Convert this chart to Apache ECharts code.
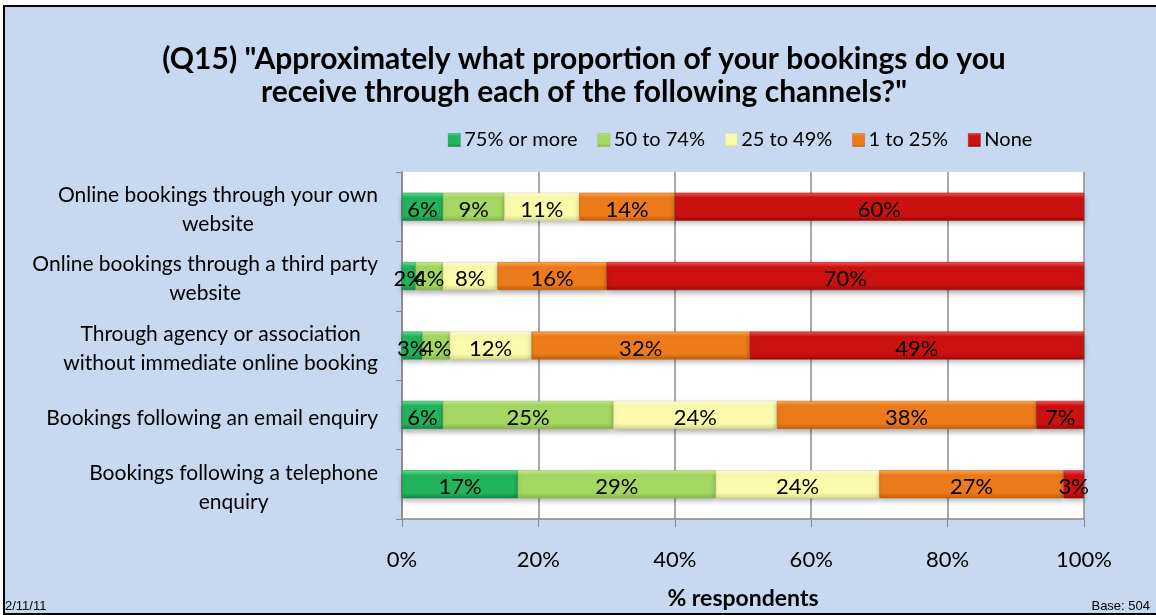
<!DOCTYPE html>
<html>
<head>
<meta charset="utf-8">
<script src="https://cdn.jsdelivr.net/npm/echarts@6/dist/echarts.min.js"></script>
<style>
    body { margin: 0; background: #fff; }
    #frame { position: absolute; left: 3px; top: 5px; width: 1160px; height: 606px; border: 2px solid #000; background: #c6d9f1; }
    #chart { position: absolute; left: 0; top: 0; width: 1156px; height: 615px; }
</style>
</head>
<body>
<div id="frame"></div>
<div id="chart"></div>
<script>
    // categories (top to bottom)
    var categories = [
        'Online bookings through your own\nwebsite',
        'Online bookings through a third party\nwebsite',
        'Through agency or association\nwithout immediate online booking',
        'Bookings following an email enquiry',
        'Bookings following a telephone\nenquiry'
    ];
    var seriesNames = ['75% or more', '50 to 74%', '25 to 49%', '1 to 25%', 'None'];
    // % respondents per answer, same order as categories
    var v75plus = [6, 2, 3, 6, 17];
    var v50to74 = [9, 4, 4, 25, 29];
    var v25to49 = [11, 8, 12, 24, 24];
    var v1to25 = [14, 16, 32, 38, 27];
    var vNone = [60, 70, 49, 7, 3];
    var xTicks = [0, 20, 40, 60, 80, 100];

    var values = [v75plus, v50to74, v25to49, v1to25, vNone];
    //颜色: 高光, 主色, 暗边
    var colors = [
        ['#5fe394', '#22b45c', '#14894a'],
        ['#c8ee8c', '#a5d763', '#86b84a'],
        ['#ffffe0', '#fbfbac', '#d9d98a'],
        ['#ffa94e', '#ee7b1b', '#c25f0e'],
        ['#ff5555', '#cc1111', '#990a0a']
    ];
    var font = 'Lato, "Open Sans", sans-serif';

    function grad(c) {
        return new echarts.graphic.LinearGradient(0, 0, 0, 1, [
            {offset: 0, color: c[0]},
            {offset: 0.18, color: c[1]},
            {offset: 0.8, color: c[1]},
            {offset: 1, color: c[2]}
        ]);
    }

    var myChart = echarts.init(document.getElementById('chart'));

    var series = seriesNames.map(function (name, i) {
        return {
            name: name,
            type: 'bar',
            stack: 'all',
            barWidth: 28,
            data: values[i],
            itemStyle: {
                color: grad(colors[i]),
                borderColor: colors[i][2],
                borderWidth: 0.5,
                shadowBlur: 5,
                shadowOffsetY: 3,
                shadowColor: 'rgba(0,0,0,0.3)'
            },
            label: {
                show: true,
                position: 'inside',
                offset: [0, 3],
                formatter: '{c}%',
                color: '#000',
                fontFamily: font,
                fontSize: 22
            }
        };
    });

    var option = {
        backgroundColor: 'transparent',
        animation: false,
        title: {
            text: '(Q15) "Approximately what proportion of your bookings do you\nreceive through each of the following channels?"',
            left: 579,
            textAlign: 'center',
            top: 38,
            textStyle: {
                fontFamily: font,
                fontWeight: 'bold',
                fontSize: 30,
                lineHeight: 33,
                color: '#000'
            }
        },
        legend: {
            data: seriesNames.map(function (n, i) {
                return {name: n, itemStyle: {color: grad(colors[i]), borderColor: colors[i][2], borderWidth: 0.5}};
            }),
            left: 443,
            top: 125,
            icon: 'rect',
            itemWidth: 12,
            itemHeight: 13,
            itemGap: 20,
            textStyle: {fontFamily: font, fontSize: 20, color: '#000', padding: [0, 0, 0, -1]}
        },
        grid: {
            left: 402,
            right: 72,
            top: 172,
            bottom: 92,
            show: true,
            backgroundColor: '#fff',
            borderWidth: 0
        },
        xAxis: {
            type: 'value',
            min: 0,
            max: 100,
            interval: 20,
            name: '% respondents',
            nameLocation: 'middle',
            nameGap: 68,
            nameTextStyle: {fontFamily: font, fontWeight: 'bold', fontSize: 23, color: '#000'},
            axisLine: {show: true, lineStyle: {color: '#888', width: 1.5}},
            axisTick: {show: true, length: 8, lineStyle: {color: '#888'}},
            splitLine: {show: true, lineStyle: {color: '#8c8c8c', width: 1.5}},
            axisLabel: {
                margin: 30,
                fontFamily: font,
                fontSize: 22,
                color: '#000',
                formatter: function (v) { return xTicks.indexOf(v) >= 0 ? v + '%' : ''; }
            }
        },
        yAxis: {
            type: 'category',
            inverse: true,
            data: categories,
            axisLine: {show: true, lineStyle: {color: '#888', width: 1.5}},
            axisTick: {show: true, length: 6, lineStyle: {color: '#888'}},
            axisLabel: {
                margin: 24,
                padding: [6, 0, 0, 0],
                color: '#000',
                fontFamily: font,
                fontSize: 21,
                lineHeight: 29,
                formatter: function (v) {
                    return v.split('\n').map(function (l) { return '{c|' + l + '}'; }).join('\n');
                },
                rich: {
                    c: {align: 'center', fontFamily: font, fontSize: 21, lineHeight: 29, color: '#000'}
                }
            }
        },
        graphic: [
            {type: 'text', left: 5, bottom: 2, style: {text: '2/11/11', font: '13px "Liberation Sans", Arial', fill: '#000'}},
            {type: 'text', right: 6, bottom: 2, style: {text: 'Base: 504', font: '13px "Liberation Sans", Arial', fill: '#000'}}
        ],
        series: series
    };

    myChart.setOption(option);
    window.addEventListener('resize', function () { myChart.resize(); });
</script>
</body>
</html>
